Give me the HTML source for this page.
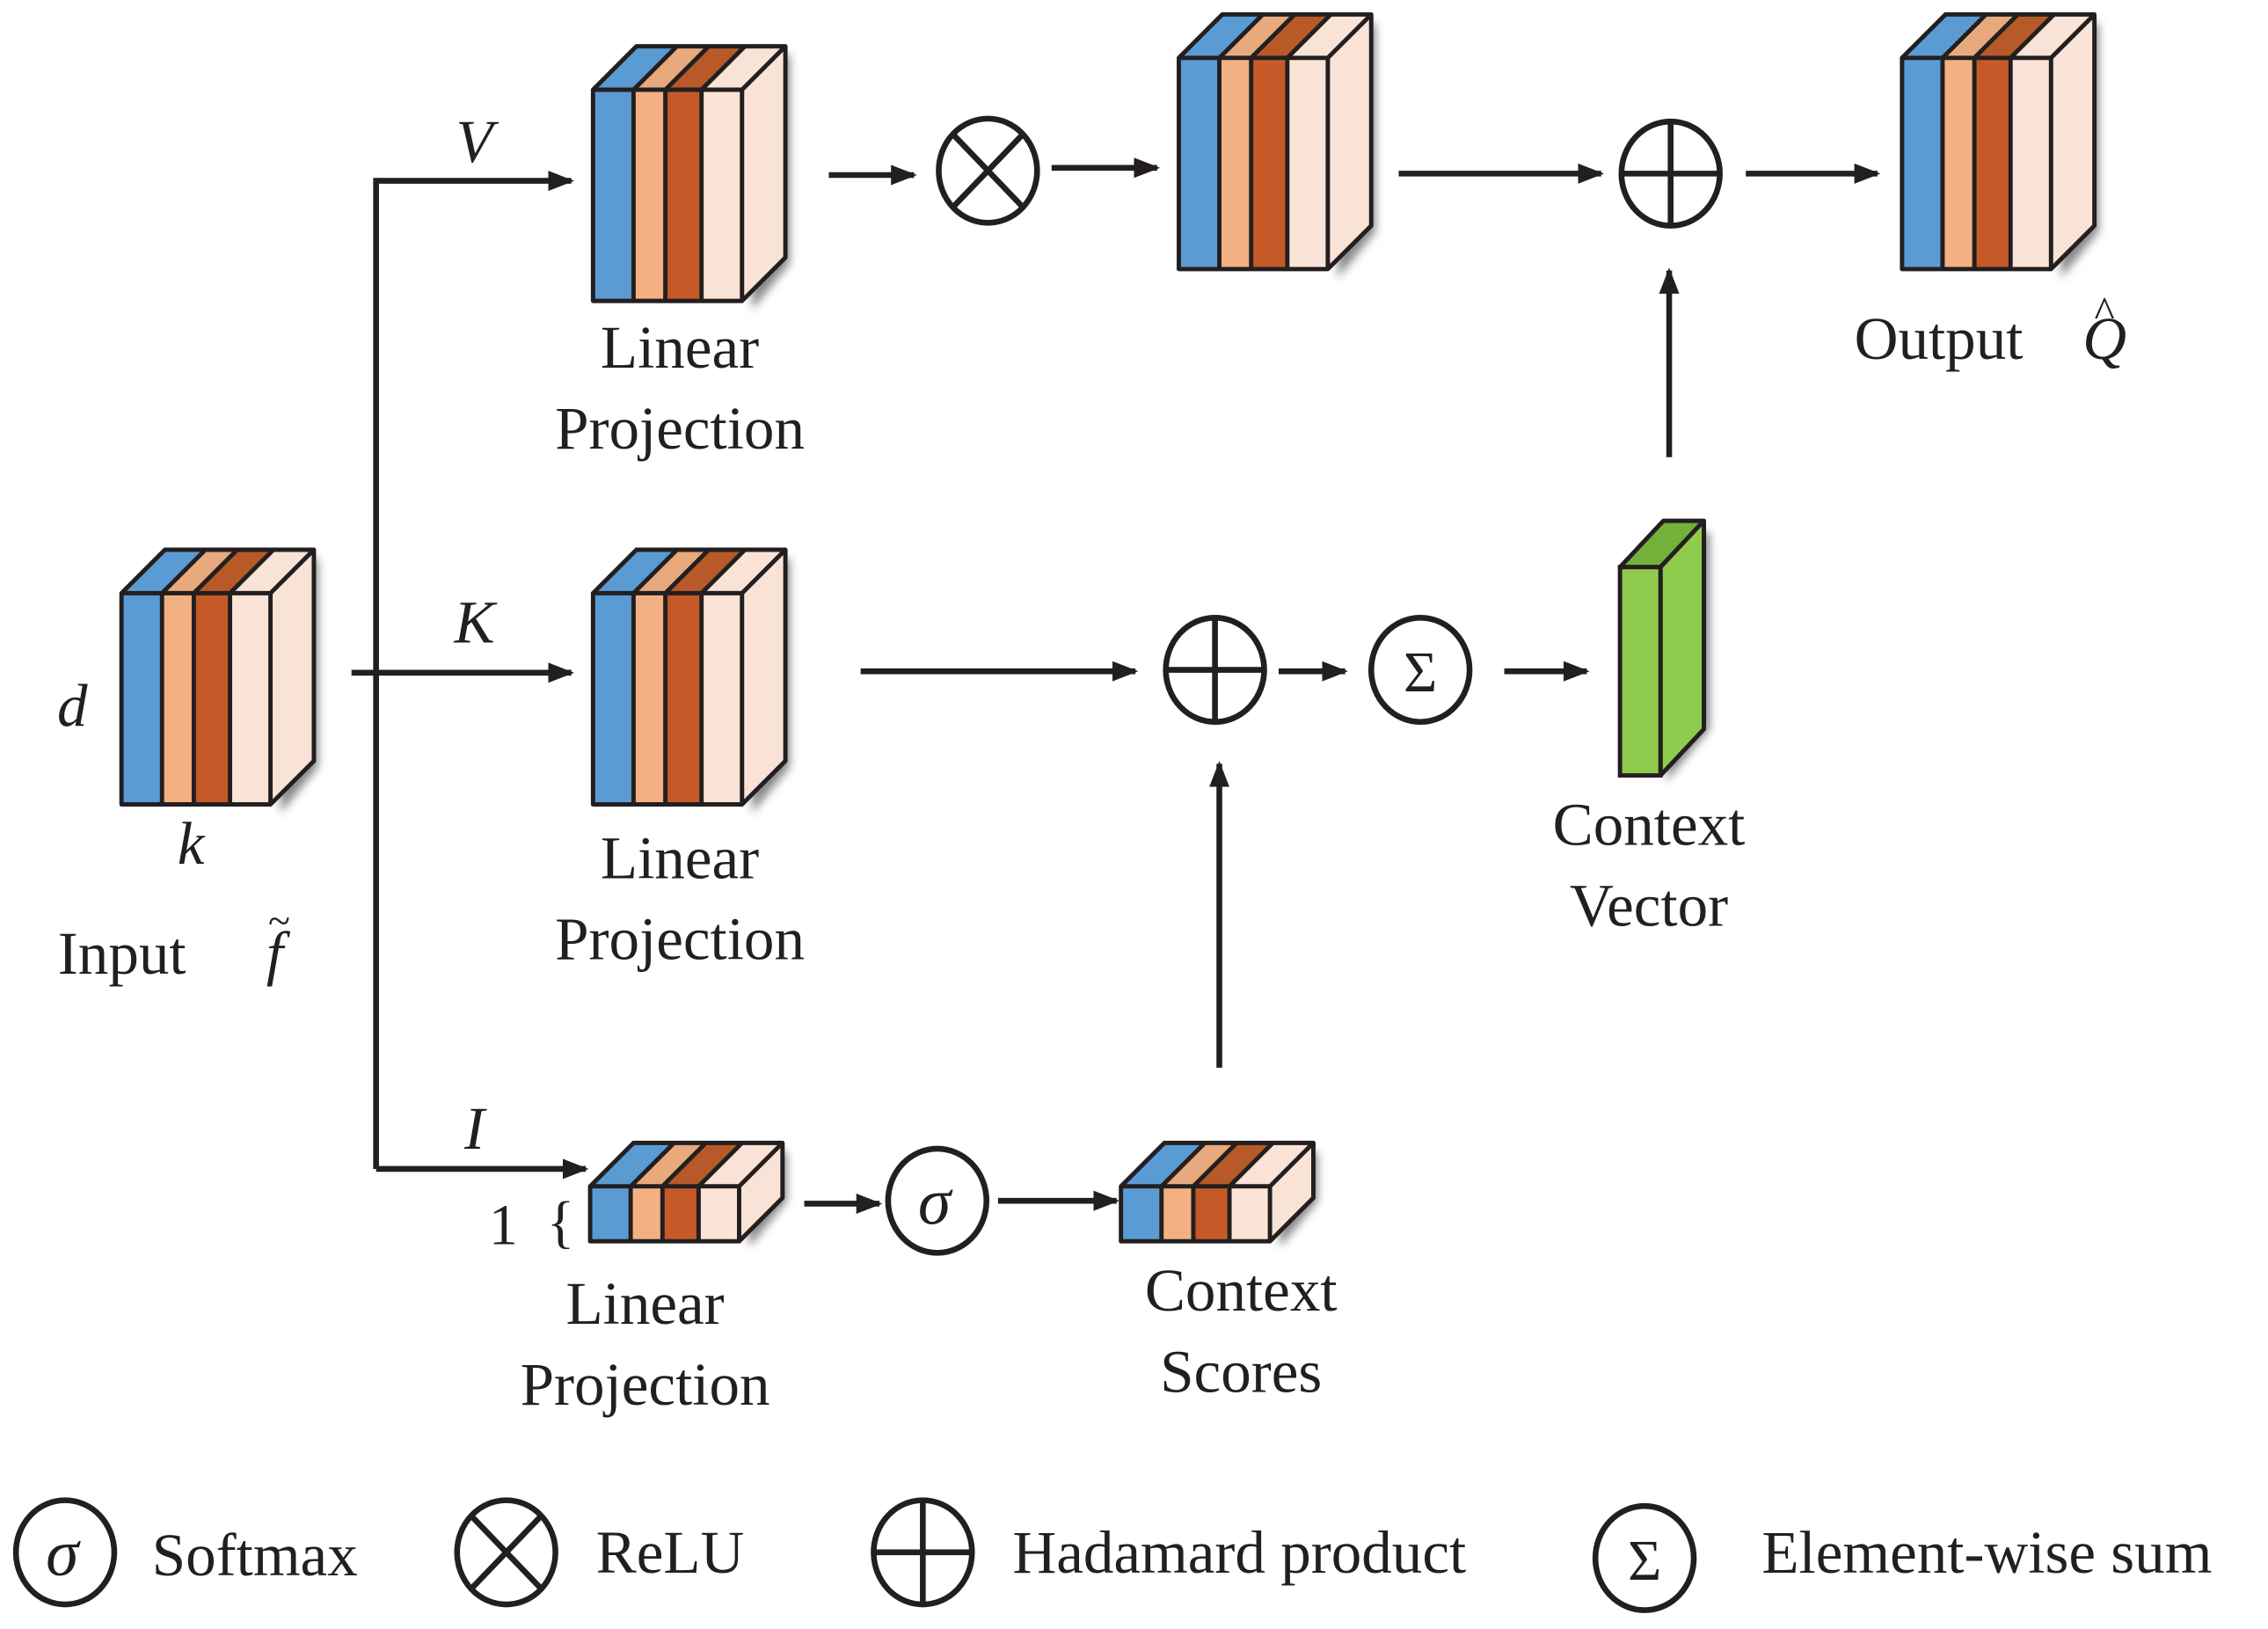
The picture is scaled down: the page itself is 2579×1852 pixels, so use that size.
<!DOCTYPE html>
<html><head><meta charset="utf-8"><style>
html,body{margin:0;padding:0;background:#fff;}
svg{display:block;}
text{font-family:"Liberation Serif","Times New Roman","DejaVu Serif",serif;fill:#231f20;}
.it{font-style:italic;}
</style></head><body>
<svg width="2579" height="1852" viewBox="0 0 1568 1126" xmlns="http://www.w3.org/2000/svg" font-family="Liberation Serif, Times New Roman, serif">
<defs>
<filter id="sh" x="-20%" y="-20%" width="150%" height="150%"><feGaussianBlur stdDeviation="3"/></filter>
<marker id="ah" markerWidth="18" markerHeight="14" refX="16" refY="7" orient="auto" markerUnits="userSpaceOnUse" viewBox="0 0 18 14"><path d="M0,0 L18,7 L0,14 z" fill="#231f20"/></marker>
<g id="blk">
 <polygon points="106,-24 136,-24 136,120 110,152" fill="#888" filter="url(#sh)"/>
 <polygon points="0,0 30,-30 58,-30 28,0" fill="#5b9bd3"/>
 <polygon points="28,0 58,-30 80,-30 50,0" fill="#e8aa7c"/>
 <polygon points="50,0 80,-30 105,-30 75,0" fill="#b85a28"/>
 <polygon points="75,0 105,-30 133,-30 103,0" fill="#f9e3d6"/>
 <polygon points="103,0 133,-30 133,116 103,146" fill="#f9e3d6"/>
 <rect x="0" y="0" width="28" height="146" fill="#5b9bd3"/>
 <rect x="28" y="0" width="22" height="146" fill="#f3b183"/>
 <rect x="50" y="0" width="25" height="146" fill="#c55a28"/>
 <rect x="75" y="0" width="28" height="146" fill="#fae4d7"/>
 <g fill="none" stroke="#231f20" stroke-width="3" stroke-linejoin="round">
  <polygon points="0,0 30,-30 133,-30 133,116 103,146 0,146"/>
  <path d="M0,0 H103 V146 M103,0 L133,-30 M28,0 L58,-30 M50,0 L80,-30 M75,0 L105,-30 M28,0 V146 M50,0 V146 M75,0 V146"/>
 </g>
</g>
<g id="flat">
 <polygon points="106,-24 136,-24 136,10 110,42" fill="#888" filter="url(#sh)"/>
 <polygon points="0,0 30,-30 58,-30 28,0" fill="#5b9bd3"/>
 <polygon points="28,0 58,-30 80,-30 50,0" fill="#e8aa7c"/>
 <polygon points="50,0 80,-30 105,-30 75,0" fill="#b85a28"/>
 <polygon points="75,0 105,-30 133,-30 103,0" fill="#f9e3d6"/>
 <polygon points="103,0 133,-30 133,8 103,38" fill="#f9e3d6"/>
 <rect x="0" y="0" width="28" height="38" fill="#5b9bd3"/>
 <rect x="28" y="0" width="22" height="38" fill="#f3b183"/>
 <rect x="50" y="0" width="25" height="38" fill="#c55a28"/>
 <rect x="75" y="0" width="28" height="38" fill="#fae4d7"/>
 <g fill="none" stroke="#231f20" stroke-width="3" stroke-linejoin="round">
  <polygon points="0,0 30,-30 133,-30 133,8 103,38 0,38"/>
  <path d="M0,0 H103 V38 M103,0 L133,-30 M28,0 L58,-30 M50,0 L80,-30 M75,0 L105,-30 M28,0 V38 M50,0 V38 M75,0 V38"/>
 </g>
</g>
<g id="cir"><ellipse cx="0" cy="0" rx="34" ry="36" fill="#fff" stroke="#231f20" stroke-width="4"/></g>
<g id="plus"><use href="#cir"/><path d="M-34,0 H34 M0,-36 V36" stroke="#231f20" stroke-width="4"/></g>
<g id="times"><use href="#cir"/><path d="M-24,-25 L24,25 M24,-25 L-24,25" stroke="#231f20" stroke-width="4"/></g>
</defs>

<use href="#blk" x="84" y="410"/>
<use href="#blk" x="410" y="62"/>
<use href="#blk" x="410" y="410"/>
<use href="#blk" x="815" y="40"/>
<use href="#blk" x="1315" y="40"/>
<use href="#flat" x="408" y="820"/>
<use href="#flat" x="775" y="820"/>

<polygon points="1152,368 1182,368 1182,504 1152,540" fill="#888" filter="url(#sh)"/>
<polygon points="1120,392 1150,360 1178,360 1148,392" fill="#72b13a" stroke="#231f20" stroke-width="3" stroke-linejoin="round"/>
<polygon points="1148,392 1178,360 1178,504 1148,536" fill="#8fcc4e" stroke="#231f20" stroke-width="3" stroke-linejoin="round"/>
<rect x="1120" y="392" width="28" height="144" fill="#8fcc4e" stroke="#231f20" stroke-width="3"/>

<g stroke="#231f20" stroke-width="4" fill="none" marker-end="url(#ah)">
 <path d="M260,808 V125 H395"/>
 <path d="M260,808 H405"/>
 <path d="M243,465 H395"/>
 <path d="M573,121 H632"/>
 <path d="M727,116 H800"/>
 <path d="M967,120 H1107"/>
 <path d="M1207,120 H1298"/>
 <path d="M1154,316 V187"/>
 <path d="M595,464 H785"/>
 <path d="M884,464 H930"/>
 <path d="M1040,464 H1097"/>
 <path d="M843,738 V528"/>
 <path d="M556,832 H608"/>
 <path d="M690,830 H772"/>
</g>

<use href="#times" x="683" y="118"/>
<use href="#plus" x="1155" y="120"/>
<use href="#plus" x="840" y="463"/>
<use href="#cir" x="982" y="463"/>
<text x="982" y="478" font-size="40" text-anchor="middle">Σ</text>
<use href="#cir" x="648" y="830"/>
<text x="646" y="846" font-size="46" class="it" text-anchor="middle">σ</text>

<g font-size="42">
<text x="328" y="112" class="it" text-anchor="middle">V</text>
<text x="328" y="444" class="it" text-anchor="middle">K</text>
<text x="328" y="794" class="it" text-anchor="middle">I</text>
<text x="50" y="502" class="it" text-anchor="middle">d</text>
<text x="132" y="597" class="it" text-anchor="middle">k</text>
<text x="40" y="673">Input</text>
<text x="190" y="673" class="it" text-anchor="middle">f</text>
<text x="193" y="646" font-size="28" text-anchor="middle">~</text>
<text x="470" y="254" text-anchor="middle">Linear</text>
<text x="470" y="310" text-anchor="middle">Projection</text>
<text x="470" y="607" text-anchor="middle">Linear</text>
<text x="470" y="663" text-anchor="middle">Projection</text>
<text x="446" y="915" text-anchor="middle">Linear</text>
<text x="446" y="971" text-anchor="middle">Projection</text>
<text x="858" y="906" text-anchor="middle">Context</text>
<text x="858" y="962" text-anchor="middle">Scores</text>
<text x="1140" y="584" text-anchor="middle">Context</text>
<text x="1140" y="640" text-anchor="middle">Vector</text>
<text x="1282" y="248">Output</text>
<text x="1455" y="248" class="it" text-anchor="middle">Q</text>
<text x="1455" y="226" font-size="30" text-anchor="middle">^</text>
<text x="338" y="860" font-size="40">1</text>
<text x="378" y="858" font-size="40">{</text>
</g>

<use href="#cir" x="45" y="1073"/>
<text x="43" y="1089" font-size="46" class="it" text-anchor="middle">σ</text>
<use href="#times" x="350" y="1073"/>
<use href="#plus" x="638" y="1073"/>
<use href="#cir" x="1137" y="1077"/>
<text x="1137" y="1092" font-size="40" text-anchor="middle">Σ</text>
<g font-size="42">
<text x="105" y="1089">Softmax</text>
<text x="412" y="1087">ReLU</text>
<text x="700" y="1087">Hadamard product</text>
<text x="1218" y="1087">Element-wise sum</text>
</g>
</svg>
</body></html>
